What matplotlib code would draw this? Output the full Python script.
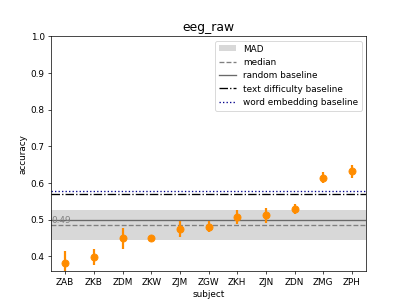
import numpy as np
import matplotlib.pyplot as plt

# per-subject accuracy (mean and error)
subjects = ["ZAB", "ZKB", "ZDM", "ZKW", "ZJM", "ZGW", "ZKH", "ZJN", "ZDN", "ZMG", "ZPH"]
accuracy = [0.382, 0.398, 0.449, 0.451, 0.475, 0.481, 0.507, 0.512, 0.529, 0.615, 0.632]
error = [0.032, 0.021, 0.028, 0.005, 0.021, 0.015, 0.020, 0.021, 0.013, 0.014, 0.017]

median = 0.486
mad = 0.041
random_baseline = 0.5
text_difficulty_baseline = 0.571
word_embedding_baseline = 0.577

fig, ax = plt.subplots(figsize=(6.4, 4.8))

x = np.arange(len(subjects))

# spread and baselines
ax.axhspan(median - mad, median + mad, color="gray", alpha=0.3, lw=0, label="MAD")
ax.axhline(median, color="gray", ls="--", lw=1.5, label="median")
ax.axhline(random_baseline, color="dimgray", ls="-", lw=1.5, label="random baseline")
ax.axhline(text_difficulty_baseline, color="black", ls="-.", lw=1.5, label="text difficulty baseline")
ax.axhline(word_embedding_baseline, color="darkblue", ls=":", lw=1.5, label="word embedding baseline")
ax.text(-0.5, median, f"{median:.2f}", color="gray", va="bottom", ha="left", fontsize=10)

ax.errorbar(x, accuracy, yerr=error, fmt="o", color="darkorange",
            markersize=8, elinewidth=2.5, capsize=0)

ax.set_xticks(x)
ax.set_xticklabels(subjects)
ax.set_xlim(-0.5, len(subjects) - 0.5)
ax.set_ylim(0.359, 1.0)
ax.set_xlabel("subject")
ax.set_ylabel("accuracy")
ax.set_title("eeg_raw", fontsize=14)
ax.legend(loc="upper right")

fig.savefig("out.png", dpi=63.6)
